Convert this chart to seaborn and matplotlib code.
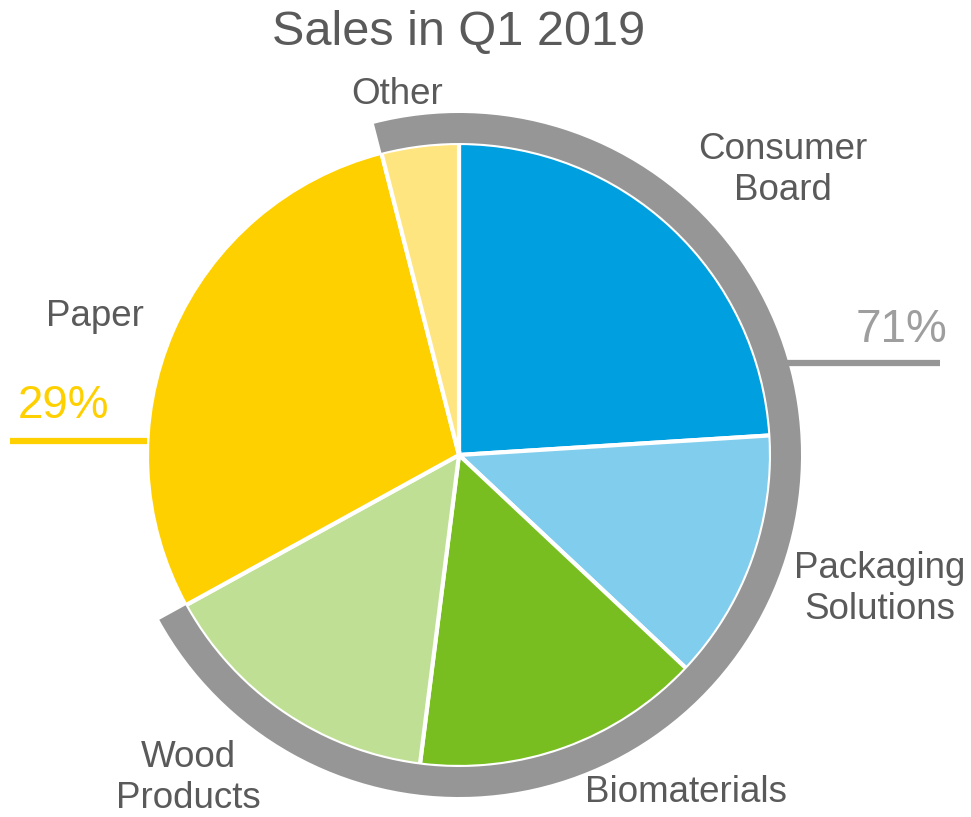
import matplotlib
matplotlib.use("Agg")
import matplotlib.pyplot as plt
import seaborn as sns

# ---- data ----
segments = ["Consumer Board", "Packaging Solutions", "Biomaterials",
            "Wood Products", "Paper", "Other"]
shares = [24, 13, 15, 15, 29, 4]
seg_colors = ["#009FDF", "#80CDEE", "#78BE20", "#BFE094", "#FFD000", "#FFE57F"]
label_texts = ["Consumer\nBoard", "Packaging\nSolutions", "Biomaterials",
               "Wood\nProducts", "Paper", "Other"]
group_names = ["Rest", "Paper"]
group_pcts = [71, 29]
title = "Sales in Q1 2019"

sns.set_theme(style="white")
plt.rcParams['font.family'] = ['Liberation Sans', 'DejaVu Sans']

W, H, DPI = 971, 817, 100
fig = plt.figure(figsize=(W / DPI, H / DPI), dpi=DPI)
ax = fig.add_axes([0, 0, 1, 1])

R_PX = 312.0
cx, cy = 459.0, 455.0  # pixel center (from top)

# main pie, clockwise from 12 o'clock
ax.pie(shares, colors=seg_colors, startangle=90, counterclock=False,
       radius=1.0, wedgeprops=dict(edgecolor="white", linewidth=3))

# grey ring over the 71% group (Other + CB + PS + Bio + Wood)
paper_idx = segments.index("Paper")
other_idx = segments.index("Other")
total = sum(shares)
start_frac = sum(shares[:other_idx]) / total
ring_start = 90 - start_frac * 360
ring_vals = [shares[other_idx] + sum(shares[:paper_idx]), shares[paper_idx]]
ring_w = 30 / R_PX
ax.pie(ring_vals, colors=["#969696", (1, 1, 1, 0)], startangle=ring_start,
       counterclock=False, radius=1.0 + ring_w,
       wedgeprops=dict(width=ring_w, edgecolor="none", linewidth=0))

ax.set_aspect("auto")
ax.set_xlim(-cx / R_PX, (W - cx) / R_PX)
ax.set_ylim(-(H - cy) / R_PX, cy / R_PX)
ax.axis("off")


def px(x, y):
    return ((x - cx) / R_PX, (cy - y) / R_PX)


text_col = "#5A5A5A"
label_pos = {
    "Consumer Board": (783, 170),
    "Packaging Solutions": (880, 589),
    "Biomaterials": (686, 793),
    "Wood Products": (188, 778),
    "Paper": (95, 317),
    "Other": (397, 95),
}
for seg, txt in zip(segments, label_texts):
    x, y = px(*label_pos[seg])
    ax.text(x, y, txt, ha="center", va="center", fontsize=26.5,
            color=text_col, linespacing=1.22)

# percentage callouts
x0, y0 = px(787, 363)
x1, _ = px(940, 363)
ax.plot([x0, x1], [y0, y0], color="#969696", lw=4.5, solid_capstyle="butt")
tx, ty = px(902, 330)
ax.text(tx, ty, f"{group_pcts[0]}%", ha="center", va="center",
        fontsize=33, color="#9E9E9E")

x0, y0 = px(10, 441)
x1, _ = px(147, 441)
ax.plot([x0, x1], [y0, y0], color="#FFD000", lw=4.5, solid_capstyle="butt")
tx, ty = px(63, 406)
ax.text(tx, ty, f"{group_pcts[1]}%", ha="center", va="center",
        fontsize=33, color="#FFD000")

tx, ty = px(459, 32)
ax.text(tx, ty, title, ha="center", va="center", fontsize=35, color=text_col)

fig.savefig("out.png", dpi=DPI, facecolor="white")
